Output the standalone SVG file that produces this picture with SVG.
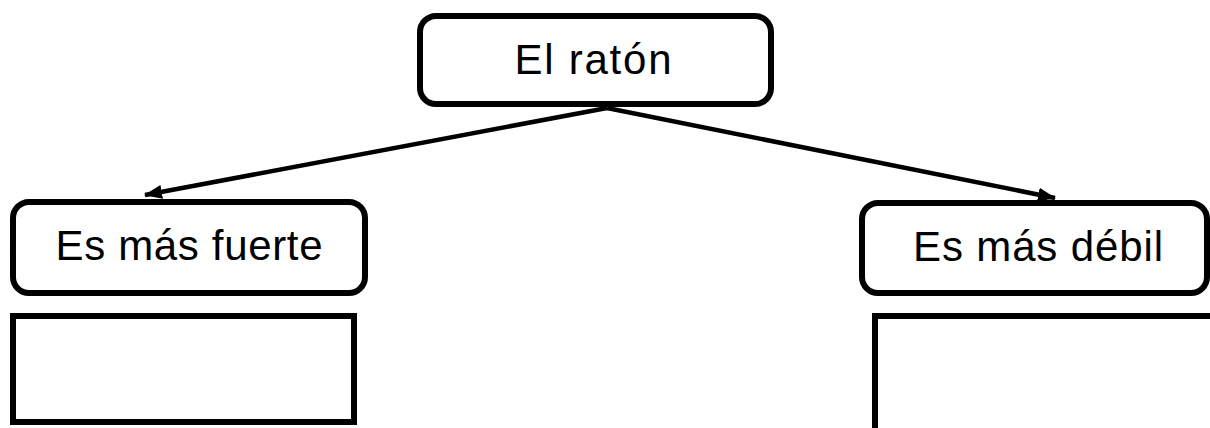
<svg xmlns="http://www.w3.org/2000/svg" width="1210" height="428" viewBox="0 0 1210 428">
<style>
.box{fill:#fff;stroke:#000;stroke-width:6}
.lbl{font-family:"Liberation Sans",Arial,sans-serif;font-size:42px;fill:#000;text-anchor:middle}
.edge{stroke:#000;stroke-width:4.5;fill:none}
</style>
<defs>
<marker id="arr" markerWidth="18" markerHeight="14" refX="17" refY="7" orient="auto" markerUnits="userSpaceOnUse">
<path d="M0,0 L18,7 L0,14 Z" fill="#000"/>
</marker>
</defs>
<rect width="1210" height="428" fill="#fff"/>
<g id="connectors">
<line class="edge" x1="607" y1="108" x2="145" y2="195" marker-end="url(#arr)"/>
<line class="edge" x1="607" y1="108" x2="1055" y2="198" marker-end="url(#arr)"/>
</g>
<g id="node-raton">
<rect class="box" x="420" y="16" width="351" height="88" rx="16"/>
<text class="lbl" x="593" y="74" textLength="157" lengthAdjust="spacing">El ratón</text>
</g>
<g id="node-fuerte">
<rect class="box" x="13" y="202" width="352" height="91" rx="16"/>
<text class="lbl" x="189" y="260" textLength="267" lengthAdjust="spacing">Es más fuerte</text>
</g>
<g id="node-debil">
<rect class="box" x="862" y="203" width="345" height="90" rx="16"/>
<text class="lbl" x="1038" y="261" textLength="250" lengthAdjust="spacing">Es más débil</text>
</g>
<g id="answer-left">
<rect class="box" x="13" y="316" width="341" height="106"/>
</g>
<g id="answer-right">
<rect class="box" x="875" y="316" width="345" height="120"/>
</g>
</svg>
